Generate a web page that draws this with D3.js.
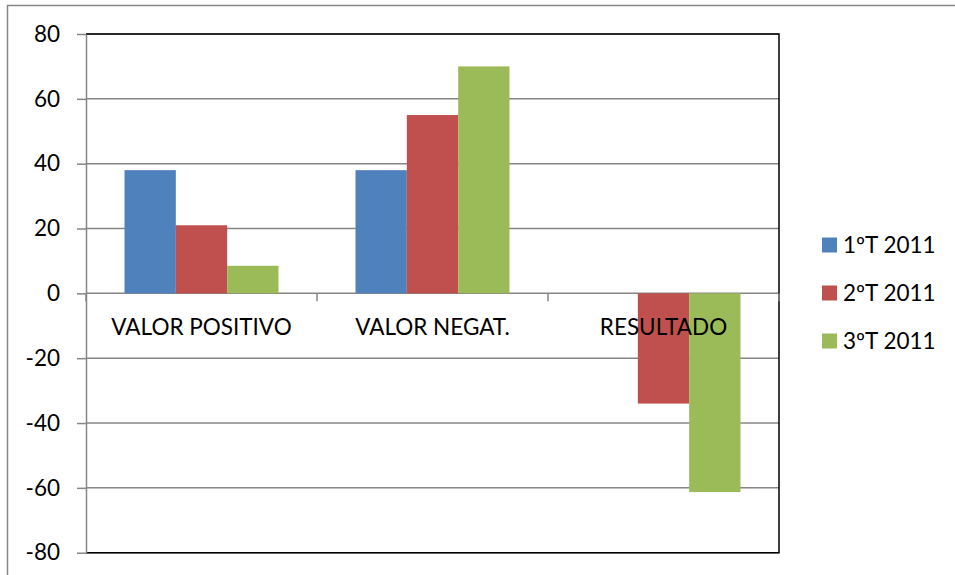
<!DOCTYPE html>
<html>
<head>
<meta charset="utf-8">
<script src="https://cdn.jsdelivr.net/npm/d3@7"></script>
<style>
  html, body { margin: 0; padding: 0; background: #fff; }
  svg { display: block; }
  text { font-family: Lato, "Open Sans", sans-serif; fill: #000; }
</style>
</head>
<body>
<svg id="chart" width="955" height="575"></svg>
<script>
const categories = ["VALOR POSITIVO", "VALOR NEGAT.", "RESULTADO"];
const seriesNames = ["1ºT 2011", "2ºT 2011", "3ºT 2011"];
const series1 = [38, 38, 0];
const series2 = [21, 55, -34];
const series3 = [8.5, 70, -61.3];
const yTicks = [-80, -60, -40, -20, 0, 20, 40, 60, 80];
const colors = ["#4F81BD", "#C0504D", "#9BBB59"];

const seriesValues = [series1, series2, series3];
const svg = d3.select("#chart");

const plot = { left: 86, right: 779, top: 34, bottom: 552.7 };
const fontSize = 22.5;

// outer chart frame
svg.append("rect")
  .attr("x", 7.5).attr("y", 5.5).attr("width", 1000).attr("height", 1000)
  .attr("fill", "none").attr("stroke", "#868686").attr("stroke-width", 1.5);

const x = d3.scaleBand().domain(categories).range([plot.left, plot.right]).paddingInner(0).paddingOuter(0);
const xs = d3.scaleBand().domain(seriesNames).range([0, x.bandwidth()]).paddingInner(0).paddingOuter(0.75);
const y = d3.scaleLinear().domain([-80, 80]).range([plot.bottom, plot.top]);

// gridlines
svg.append("g").selectAll("line").data(yTicks).join("line")
  .attr("x1", plot.left).attr("x2", plot.right)
  .attr("y1", d => y(d)).attr("y2", d => y(d))
  .attr("stroke", "#868686").attr("stroke-width", 1.5);

// bars
const data = [];
categories.forEach((c, i) => {
  seriesNames.forEach((s, j) => data.push({ c, s, v: seriesValues[j][i], j }));
});
svg.append("g").selectAll("rect").data(data).join("rect")
  .attr("x", d => x(d.c) + xs(d.s))
  .attr("width", xs.bandwidth())
  .attr("y", d => y(Math.max(0, d.v)))
  .attr("height", d => Math.abs(y(d.v) - y(0)))
  .attr("fill", d => colors[d.j]);

// plot border (top/right/bottom black)
svg.append("path")
  .attr("d", `M${plot.left},${plot.top}H${plot.right}V${plot.bottom}H${plot.left}`)
  .attr("fill", "none").attr("stroke", "#000").attr("stroke-width", 1.5);

// y axis
const yAxis = d3.axisLeft(y).tickValues(yTicks).tickSize(9).tickSizeOuter(0).tickPadding(17).tickFormat(d => String(d));
const gy = svg.append("g").attr("transform", `translate(${plot.left},0)`).call(yAxis);
gy.select(".domain").attr("stroke", "#868686").attr("stroke-width", 1.5);
gy.selectAll(".tick line").attr("stroke", "#868686").attr("stroke-width", 1.5);
gy.selectAll(".tick text").style("font-size", fontSize + "px").style("font-family", "Lato, sans-serif").attr("fill", "#000");

// category axis on zero line
const catTicks = categories.map(c => x(c)).concat([plot.right]);
svg.append("g").selectAll("line").data(catTicks).join("line")
  .attr("x1", d => d).attr("x2", d => d)
  .attr("y1", y(0)).attr("y2", y(0) + 8)
  .attr("stroke", "#868686").attr("stroke-width", 1.5);

svg.append("g").selectAll("text").data(categories).join("text")
  .attr("x", d => x(d) + x.bandwidth() / 2)
  .attr("y", y(0) + 42)
  .attr("text-anchor", "middle")
  .style("font-size", fontSize + "px")
  .text(d => d);

// legend
const lg = svg.append("g");
seriesNames.forEach((s, i) => {
  const cy = 245 + i * 48;
  lg.append("rect").attr("x", 822).attr("y", cy - 7.5).attr("width", 15).attr("height", 15).attr("fill", colors[i]);
  lg.append("text").attr("x", 843).attr("y", cy + 8).style("font-size", fontSize + "px").text(s);
});
</script>
</body>
</html>
